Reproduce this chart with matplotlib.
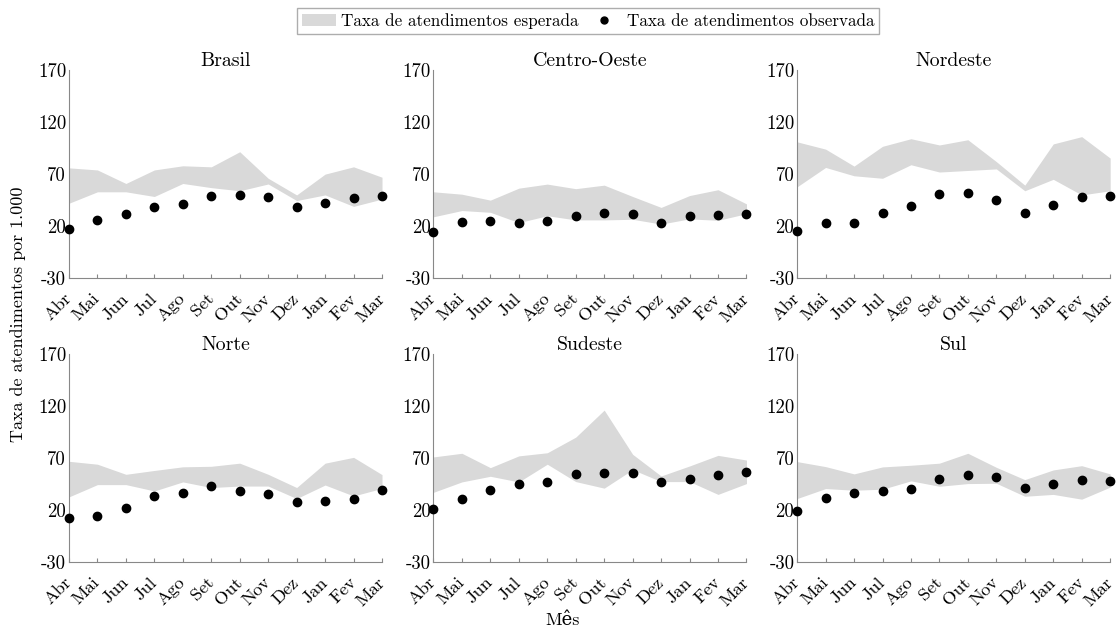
import matplotlib
matplotlib.use("Agg")
import matplotlib.pyplot as plt
from matplotlib.patches import Patch
from matplotlib.lines import Line2D
from matplotlib.transforms import ScaledTranslation

plt.rcParams['font.family'] = ['cmr10', 'DejaVu Serif']
plt.rcParams['mathtext.fontset'] = 'cm'
plt.rcParams['axes.unicode_minus'] = False

months = ["Abr", "Mai", "Jun", "Jul", "Ago", "Set", "Out", "Nov", "Dez", "Jan", "Fev", "Mar"]
regions = ["Brasil", "Centro-Oeste", "Nordeste", "Norte", "Sudeste", "Sul"]
yticks = [-30, 20, 70, 120, 170]

brasil_upper = [76, 74, 61, 74, 78, 77, 91.5, 66, 50, 70, 77, 67]
brasil_lower = [42, 53, 53, 48.5, 61, 57, 54, 60.5, 44.6, 50, 39, 46]
brasil_obs = [17.6, 26, 31.4, 38, 41, 49, 50, 48, 38, 42.7, 47, 49]

co_upper = [53, 50.7, 45, 56.5, 60.4, 56, 59.4, 48.5, 38, 49.4, 55, 41.4]
co_lower = [29, 35, 33.3, 23.4, 30, 26, 26, 26.6, 22, 27, 25.6, 32]
co_obs = [14, 24.3, 24.7, 23.4, 25, 30, 32.4, 31.4, 22.7, 29.5, 30.8, 31.4]

ne_upper = [101, 94, 77.7, 96.7, 104, 98, 103, 82, 59.4, 99, 106, 85.4]
ne_lower = [57.8, 76.4, 68.4, 66, 79, 72, 73.5, 75, 54, 65, 50, 54]
ne_obs = [15.7, 22.7, 22.7, 32.4, 39, 51, 52.3, 45, 32.4, 40.7, 48, 49.4]

no_upper = [66.8, 64, 54.3, 58, 61.5, 62, 65, 54.3, 41.6, 65, 70.6, 54]
no_lower = [32.6, 44.4, 44.4, 38.3, 47, 41.6, 43, 43, 31, 44, 33.5, 40.8]
no_obs = [12.8, 13.8, 22.4, 33, 36, 43, 38, 35.4, 27.8, 29, 31, 39.3]

se_upper = [71, 74.5, 60.7, 72, 75, 90, 116, 73.5, 52.7, 62.3, 72.5, 68]
se_lower = [37, 47, 52.4, 47, 64, 47.3, 41, 58.8, 47.3, 47.3, 35, 45.4]
se_obs = [20.5, 30.4, 39.6, 45.4, 47.3, 54.3, 55.6, 55.3, 47.3, 49.9, 53.7, 56.6]

sul_upper = [66.5, 61.7, 54.7, 61.4, 63, 65, 74.5, 61, 49.2, 58.5, 62.6, 54.7]
sul_lower = [31, 40.6, 39, 40, 48, 42.8, 45.4, 45.7, 33.2, 35, 30.4, 42]
sul_obs = [19, 31.6, 36.8, 38.7, 40.3, 50, 53.4, 51.8, 41.3, 45, 48.9, 48.3]

uppers = [brasil_upper, co_upper, ne_upper, no_upper, se_upper, sul_upper]
lowers = [brasil_lower, co_lower, ne_lower, no_lower, se_lower, sul_lower]
obs = [brasil_obs, co_obs, ne_obs, no_obs, se_obs, sul_obs]

fill_color = "#d9d9d9"
spine_color = "#888888"
fs_ytick = 13.5
fs_xtick = 13.2
fs_title = 14.3
fs_label = 13
fs_leg = 12.3

fig = plt.figure(figsize=(11.18, 6.28), dpi=100)
lefts = [0.0617, 0.3877, 0.7130]
bottoms = [0.557, 0.105]
w, h = 0.280, 0.3315
shift = ScaledTranslation(7 / 100, 0, fig.dpi_scale_trans)

x = list(range(len(months)))
for i, reg in enumerate(regions):
    r, c = divmod(i, 3)
    ax = fig.add_axes([lefts[c], bottoms[r], w, h])
    ax.fill_between(x, lowers[i], uppers[i], color=fill_color, linewidth=0)
    ax.plot(x, obs[i], 'o', color='black', markersize=6, clip_on=False, zorder=3)
    ax.set_xlim(0, 11)
    ax.set_ylim(-30, 170)
    ax.set_yticks(yticks)
    ax.set_yticklabels([str(t) for t in yticks], fontsize=fs_ytick)
    ax.set_xticks(x)
    ax.set_xticklabels(months, rotation=45, ha='right', va='center',
                       rotation_mode='anchor', fontsize=fs_xtick)
    for lab in ax.get_xticklabels():
        lab.set_transform(lab.get_transform() + shift)
    for s in ['top', 'right']:
        ax.spines[s].set_visible(False)
    for s in ['left', 'bottom']:
        ax.spines[s].set_color(spine_color)
        ax.spines[s].set_linewidth(0.8)
    ax.tick_params(axis='x', direction='in', length=3, color=spine_color, pad=13)
    ax.tick_params(axis='y', length=0, pad=2)
    ax.set_title(reg, fontsize=fs_title, pad=2)

fig.text(0.016, 0.5, "Taxa de atendimentos por 1.000", rotation=90, va='center', ha='center', fontsize=fs_label)
fig.text(0.503, 0.012, "Mês", ha='center', va='center', fontsize=fs_label)

handles = [Patch(facecolor=fill_color, edgecolor='none'),
           Line2D([], [], marker='o', color='black', linestyle='none', markersize=5)]
fig.legend(handles, ["Taxa de atendimentos esperada", "Taxa de atendimentos observada"],
           loc='upper center', bbox_to_anchor=(0.526, 0.987), ncol=2, frameon=True, fancybox=False,
           edgecolor='#999999', fontsize=fs_leg, handlelength=2.0, handletextpad=0.3,
           columnspacing=0.5, borderpad=0.3, borderaxespad=0)

fig.savefig("out.png", dpi=100)
